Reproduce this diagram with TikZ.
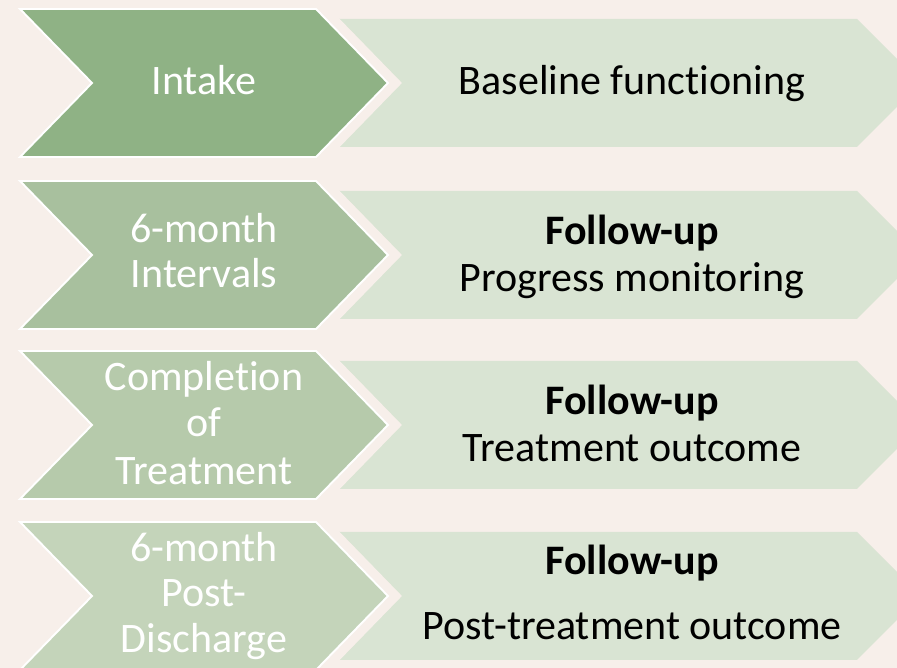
\documentclass[tikz,border=0pt]{standalone}
\usepackage{fontspec}
\setmainfont[Ligatures=NoCommon]{Carlito}
\usepackage{xcolor}
\usepackage{tikz}
\usetikzlibrary{positioning}

\definecolor{bgcream}{HTML}{F7EFEA}
\definecolor{sageA}{HTML}{8FB285}
\definecolor{sageB}{HTML}{A8C09E}
\definecolor{sageC}{HTML}{B6CAAB}
\definecolor{sageD}{HTML}{C4D4BA}
\definecolor{palesage}{HTML}{D9E4D3}

\begin{document}
\begin{tikzpicture}[
    band/.style={fill=palesage},
    halo/.style={draw=bgcream, line width=0.4cm, line join=miter},
    chev/.style={draw=white, line width=1.1pt, line join=miter},
    lbl/.style={anchor=base, inner sep=0pt, text=white, font=\fontsize{23.9}{26}\selectfont},
    txt/.style={anchor=base, inner sep=0pt, text=black, font=\fontsize{23.9}{26}\selectfont}
]
  \useasboundingbox (0,0) rectangle (17.94,13.36);
  \fill[bgcream] (0,0) rectangle (17.94,13.36);
  \clip (0,0) rectangle (17.94,13.36);

  % row 1: intake
  \path[band] (6.0,12.98) -- (17.14,12.98) -- (18.42,11.70) -- (17.14,10.42) -- (6.0,10.42) -- cycle;
  \path[halo] (0.40,13.18) -- (6.32,13.18) -- (7.76,11.70) -- (6.32,10.22) -- (0.40,10.22) -- (1.84,11.70) -- cycle;
  \path[chev, fill=sageA] (0.40,13.18) -- (6.32,13.18) -- (7.76,11.70) -- (6.32,10.22) -- (0.40,10.22) -- (1.84,11.70) -- cycle;
  \node[lbl] (intake) at (4.08,11.46) {Intake};
  \node[txt] (baseline) at (12.64,11.46) {Baseline functioning};

  % row 2: 6-month intervals
  \path[band] (6.0,9.54) -- (17.14,9.54) -- (18.42,8.26) -- (17.14,6.98) -- (6.0,6.98) -- cycle;
  \path[halo] (0.40,9.74) -- (6.32,9.74) -- (7.76,8.26) -- (6.32,6.78) -- (0.40,6.78) -- (1.84,8.26) -- cycle;
  \path[chev, fill=sageB] (0.40,9.74) -- (6.32,9.74) -- (7.76,8.26) -- (6.32,6.78) -- (0.40,6.78) -- (1.84,8.26) -- cycle;
  \node[lbl] (ivA) at (4.08,8.50) {6-month};
  \node[lbl] (ivB) at (4.08,7.60) {Intervals};
  \node[txt] (fuB) at (12.64,8.46) {\textbf{Follow-up}};
  \node[txt] (progress) at (12.64,7.52) {Progress monitoring};

  % row 3: completion of treatment
  \path[band] (6.0,6.14) -- (17.14,6.14) -- (18.42,4.86) -- (17.14,3.58) -- (6.0,3.58) -- cycle;
  \path[halo] (0.40,6.34) -- (6.32,6.34) -- (7.76,4.86) -- (6.32,3.38) -- (0.40,3.38) -- (1.84,4.86) -- cycle;
  \path[chev, fill=sageC] (0.40,6.34) -- (6.32,6.34) -- (7.76,4.86) -- (6.32,3.38) -- (0.40,3.38) -- (1.84,4.86) -- cycle;
  \node[lbl] (compA) at (4.08,5.54) {Completion};
  \node[lbl] (compB) at (4.08,4.62) {of};
  \node[lbl] (compC) at (4.08,3.66) {Treatment};
  \node[txt] (fuC) at (12.64,5.06) {\textbf{Follow-up}};
  \node[txt] (outcome) at (12.64,4.12) {Treatment outcome};

  % row 4: post-discharge
  \path[band] (6.0,2.72) -- (17.14,2.72) -- (18.42,1.44) -- (17.14,0.16) -- (6.0,0.16) -- cycle;
  \path[halo] (0.40,2.92) -- (6.32,2.92) -- (7.76,1.44) -- (6.32,-0.04) -- (0.40,-0.04) -- (1.84,1.44) -- cycle;
  \path[chev, fill=sageD] (0.40,2.92) -- (6.32,2.92) -- (7.76,1.44) -- (6.32,-0.04) -- (0.40,-0.04) -- (1.84,1.44) -- cycle;
  \node[lbl] (postA) at (4.08,2.12) {6-month};
  \node[lbl] (postB) at (4.08,1.22) {Post-};
  \node[lbl] (postC) at (4.08,0.30) {Discharge};
  \node[txt] (fuD) at (12.64,1.86) {\textbf{Follow-up}};
  \node[txt] (posttreat) at (12.64,0.56) {Post-treatment outcome};
\end{tikzpicture}
\end{document}
